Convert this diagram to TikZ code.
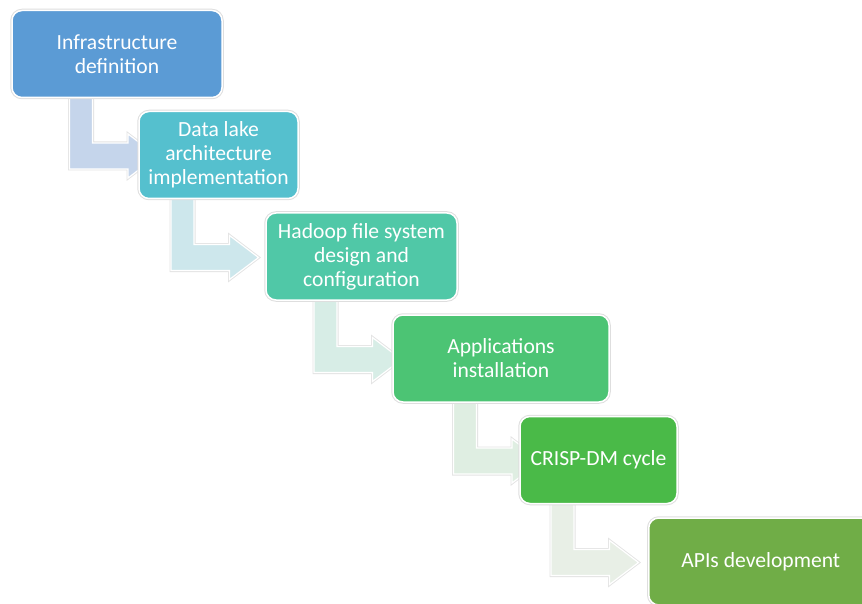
\documentclass[tikz,border=0pt]{standalone}
\usepackage{fontspec}
\setmainfont{Carlito}
\usetikzlibrary{calc}
\pgfdeclarelayer{back}
\pgfsetlayers{back,main}

% step fills
\definecolor{stepA}{HTML}{5B9BD5}
\definecolor{stepB}{HTML}{55C0CE}
\definecolor{stepC}{HTML}{50C8A7}
\definecolor{stepD}{HTML}{4CC474}
\definecolor{stepE}{HTML}{4ABA48}
\definecolor{stepF}{HTML}{70AD47}
% bent arrow fills
\definecolor{flowA}{HTML}{C5D5EB}
\definecolor{flowB}{HTML}{CDE7EC}
\definecolor{flowC}{HTML}{D7EDE6}
\definecolor{flowD}{HTML}{DFEEE2}
\definecolor{flowE}{HTML}{E8EFE6}

% bent arrow leaving the bottom of #1 and pointing at #2
\newcommand\bendflow[3]{%
  \path[flow, fill=#3] let \p1=(#1.south), \p2=(#2.center) in
    (\x1-47.5pt,\y1) -- (\x1-24.5pt,\y1) -- (\x1-24.5pt,\y2+12pt)
    -- (\x1+11pt,\y2+12pt) -- (\x1+11pt,\y2+21pt) -- (\x1+40pt,\y2-1pt)
    -- (\x1+11pt,\y2-23pt) -- (\x1+11pt,\y2-14pt) -- (\x1-47.5pt,\y2-14pt)
    -- cycle;}

\begin{document}
\begin{tikzpicture}[x=1pt,y=1pt,
  stepbox/.style={rectangle, rounded corners=10pt, draw=white, line width=1.5pt,
    preaction={draw=black!13, line width=3.5pt},
    text=white, align=center, font=\fontsize{21.6}{24}\selectfont,
    inner sep=0pt, minimum height=87pt},
  flow/.style={draw=white, line width=1.2pt,
    preaction={draw=black!11, line width=3pt}}]
\useasboundingbox (0,0) rectangle (862,-604);

\node[stepbox, fill=stepA, minimum width=210pt] (b1) at (117,-54)
  {Infrastructure\\definition};
\node[stepbox, fill=stepB, minimum width=159pt] (b2) at (218.5,-155)
  {Data lake\\architecture\\implementation};
\node[stepbox, fill=stepC, minimum width=191pt] (b3) at (361.5,-256.5)
  {Hadoop file system\\design and\\configuration};
\node[stepbox, fill=stepD, minimum width=216pt] (b4) at (501,-358.5)
  {Applications\\installation};
\node[stepbox, fill=stepE, minimum width=157pt] (b5) at (598.5,-460)
  {CRISP-DM cycle};
\node[stepbox, fill=stepF, anchor=west] (b6) at (648,-561.5)
  {\makebox[224pt]{APIs development}\hspace*{40pt}};

\begin{pgfonlayer}{back}
  \bendflow{b1}{b2}{flowA}
  \bendflow{b2}{b3}{flowB}
  \bendflow{b3}{b4}{flowC}
  \bendflow{b4}{b5}{flowD}
  \bendflow{b5}{b6}{flowE}
\end{pgfonlayer}
\end{tikzpicture}
\end{document}
